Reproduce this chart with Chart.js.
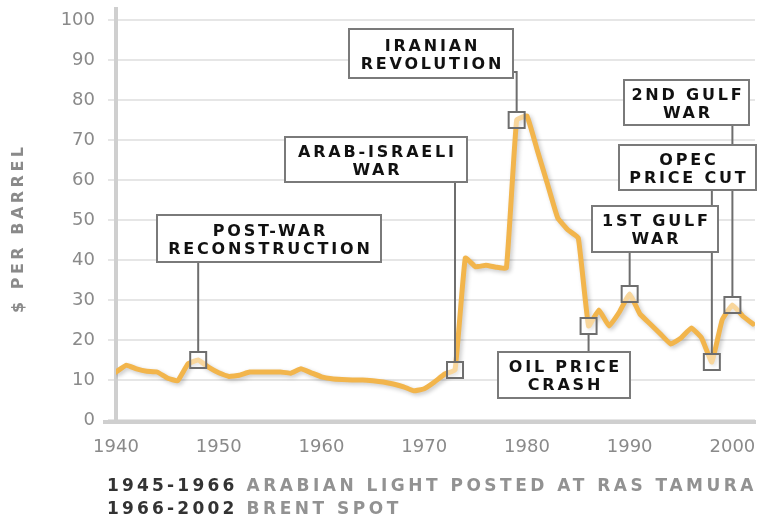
<!DOCTYPE html>
<html>
<head>
<meta charset="utf-8">
<script src="https://cdn.jsdelivr.net/npm/chart.js@4.4.1/dist/chart.umd.min.js"></script>
<style>
  html, body { margin: 0; padding: 0; background: #fff; }
  #wrap { width: 759px; height: 516px; position: relative; }
</style>
</head>
<body>
<div id="wrap"><canvas id="oilChart"></canvas></div>
<script>
// crude oil price, $ per barrel (2002 money)
const years = [
  1940, 1941, 1942, 1943, 1944, 1945, 1946, 1947, 1948, 1949,
  1950, 1951, 1952, 1953, 1954, 1955, 1956, 1957, 1958, 1959,
  1960, 1961, 1962, 1963, 1964, 1965, 1966, 1967, 1968, 1969,
  1970, 1971, 1972, 1973, 1974, 1975, 1976, 1977, 1978, 1979,
  1980, 1981, 1982, 1983, 1984, 1985, 1986, 1987, 1988, 1989,
  1990, 1991, 1992, 1993, 1994, 1995, 1996, 1997, 1998, 1999,
  2000, 2001, 2002
];
const prices = [
  12, 13.7, 12.8, 12.2, 12, 10.5, 9.8, 14, 15, 13.2,
  11.8, 10.9, 11.2, 12, 12, 12, 12, 11.7, 12.8, 11.8,
  10.8, 10.3, 10.1, 10, 10, 9.8, 9.5, 9, 8.3, 7.3,
  7.8, 9.5, 11.5, 12.5, 40.5, 38.3, 38.7, 38.2, 38, 75,
  76, 67.5, 59, 50.5, 47.5, 45.5, 23.5, 27.5, 23.5, 27,
  31.5, 26.5, 24, 21.5, 19, 20.5, 23, 20.5, 14.5, 25,
  28.75, 26, 24
];
const xTicks = [1940, 1950, 1960, 1970, 1980, 1990, 2000];
const yTicks = [0, 10, 20, 30, 40, 50, 60, 70, 80, 90, 100];

const eventYears = [1948, 1973, 1979, 1986, 1990, 1998, 2000];
const eventLabels = [
  ['POST-WAR', 'RECONSTRUCTION'],
  ['ARAB-ISRAELI', 'WAR'],
  ['IRANIAN', 'REVOLUTION'],
  ['OIL PRICE', 'CRASH'],
  ['1ST GULF', 'WAR'],
  ['OPEC', 'PRICE CUT'],
  ['2ND GULF', 'WAR']
];
const noteYears = ['1945-1966', '1966-2002'];
const noteSources = ['ARABIAN LIGHT POSTED AT RAS TAMURA', 'BRENT SPOT'];

// callout box placement (pixels), same order as eventLabels
const boxes = [
  { left: 157, top: 215, w: 224, h: 47 },
  { left: 285, top: 137, w: 182, h: 45 },
  { left: 349, top: 29, w: 164, h: 49, elbowY: 72 },
  { left: 498, top: 352, w: 132, h: 46 },
  { left: 592, top: 206, w: 126, h: 46 },
  { left: 619, top: 145, w: 137, h: 45 },
  { left: 624, top: 80, w: 125, h: 45 }
];

const LINE = '#f2b54c';
const AXIS = '#cfcfcf';
const GREY_TEXT = '#8a8a8a';

function spacedText(ctx, text, x, y, spacing, align) {
  ctx.letterSpacing = spacing + 'px';
  ctx.textAlign = align;
  ctx.fillText(text, align === 'center' ? x + spacing / 2 : x, y);
  ctx.letterSpacing = '0px';
}

const lineShadow = {
  id: 'lineShadow',
  beforeDatasetDraw(chart) {
    const ctx = chart.ctx;
    ctx.save();
    ctx.shadowColor = 'rgba(0,0,0,0.22)';
    ctx.shadowBlur = 4;
    ctx.shadowOffsetX = 2;
    ctx.shadowOffsetY = 2;
  },
  afterDatasetDraw(chart) {
    chart.ctx.restore();
  }
};

const decorations = {
  id: 'decorations',
  beforeDatasetsDraw(chart) {
    const { ctx, chartArea: a } = chart;
    ctx.save();
    ctx.strokeStyle = AXIS;
    ctx.lineWidth = 4;
    ctx.beginPath();
    ctx.moveTo(a.left, 7);
    ctx.lineTo(a.left, a.bottom + 4);
    ctx.moveTo(a.left - 13, a.bottom + 2);
    ctx.lineTo(a.right + 1, a.bottom + 2);
    ctx.stroke();
    ctx.restore();
  },
  afterDatasetsDraw(chart) {
    const { ctx, scales: { x, y } } = chart;
    const pts = eventYears.map(yr => ({
      x: x.getPixelForValue(yr),
      y: y.getPixelForValue(prices[years.indexOf(yr)])
    }));
    const m = 8;
    ctx.save();
    // leader lines
    ctx.strokeStyle = '#6e6e6e';
    ctx.lineWidth = 2;
    pts.forEach((p, i) => {
      const b = boxes[i];
      ctx.beginPath();
      if (b.elbowY !== undefined) {
        ctx.moveTo(p.x, p.y - m);
        ctx.lineTo(p.x, b.elbowY);
        ctx.lineTo(b.left + b.w, b.elbowY);
      } else if (b.top + b.h < p.y) {
        ctx.moveTo(p.x, p.y - m);
        ctx.lineTo(p.x, b.top + b.h);
      } else {
        ctx.moveTo(p.x, p.y + m);
        ctx.lineTo(p.x, b.top);
      }
      ctx.stroke();
    });
    // boxes
    ctx.font = 'bold 16px "DejaVu Sans"';
    ctx.textBaseline = 'alphabetic';
    boxes.forEach((b, i) => {
      ctx.fillStyle = '#fff';
      ctx.fillRect(b.left, b.top, b.w, b.h);
      ctx.strokeStyle = '#7a7a7a';
      ctx.lineWidth = 2;
      ctx.strokeRect(b.left, b.top, b.w, b.h);
      ctx.fillStyle = '#111';
      const cx = b.left + b.w / 2;
      const mid = b.top + b.h / 2;
      spacedText(ctx, eventLabels[i][0], cx, mid - 3, 2.8, 'center');
      spacedText(ctx, eventLabels[i][1], cx, mid + 15, 2.8, 'center');
    });
    // markers
    pts.forEach(p => {
      ctx.fillStyle = 'rgba(255,255,255,0.45)';
      ctx.fillRect(p.x - m, p.y - m, 2 * m, 2 * m);
      ctx.strokeStyle = '#6e6e6e';
      ctx.lineWidth = 2;
      ctx.strokeRect(p.x - m, p.y - m, 2 * m, 2 * m);
    });
    ctx.restore();
  },
  afterDraw(chart) {
    const ctx = chart.ctx;
    ctx.save();
    // y axis title
    ctx.translate(19, 230);
    ctx.rotate(-Math.PI / 2);
    ctx.font = 'bold 16px "DejaVu Sans"';
    ctx.fillStyle = GREY_TEXT;
    ctx.textBaseline = 'middle';
    spacedText(ctx, '$ PER BARREL', 0, 0, 3.5, 'center');
    ctx.restore();
    // source notes
    ctx.save();
    ctx.font = 'bold 17px "DejaVu Sans"';
    ctx.textBaseline = 'alphabetic';
    noteYears.forEach((yr, i) => {
      const base = 491 + i * 23;
      ctx.fillStyle = '#333';
      spacedText(ctx, yr, 107, base, 3.2, 'left');
      ctx.letterSpacing = '3.2px';
      const w = ctx.measureText(yr + ' ').width;
      ctx.letterSpacing = '0px';
      ctx.fillStyle = '#929292';
      spacedText(ctx, noteSources[i], 107 + w, base, 3.5, 'left');
    });
    ctx.restore();
  }
};

const tickFont = { family: 'DejaVu Sans', size: 18 };

new Chart(document.getElementById('oilChart'), {
  type: 'line',
  data: {
    datasets: [{
      data: years.map((yr, i) => ({ x: yr, y: prices[i] })),
      borderColor: LINE,
      borderWidth: 5,
      borderJoinStyle: 'round',
      borderCapStyle: 'round',
      tension: 0.1,
      pointRadius: 0,
      fill: false
    }]
  },
  options: {
    responsive: true,
    maintainAspectRatio: false,
    animation: false,
    layout: { padding: { top: 8, right: 4, left: 0, bottom: 0 } },
    plugins: { legend: { display: false }, tooltip: { enabled: false } },
    scales: {
      x: {
        type: 'linear',
        min: 1940,
        max: 2002.2,
        afterFit: s => { s.height = 96; s.paddingLeft = 0; s.paddingRight = 0; },
        afterBuildTicks: s => { s.ticks = xTicks.map(v => ({ value: v })); },
        grid: { display: false },
        border: { display: false },
        ticks: {
          color: GREY_TEXT, font: tickFont, padding: 9,
          maxRotation: 0, autoSkip: false, callback: v => String(v)
        }
      },
      y: {
        min: 0,
        max: 103,
        afterFit: s => { s.width = 116; s.paddingTop = 0; s.paddingBottom = 0; },
        afterBuildTicks: s => { s.ticks = yTicks.map(v => ({ value: v })); },
        grid: { color: '#e6e6e6', lineWidth: 2, tickLength: 8, drawTicks: true },
        border: { display: false },
        ticks: { color: GREY_TEXT, font: tickFont, padding: 13, callback: v => String(v) }
      }
    }
  },
  plugins: [lineShadow, decorations]
});
</script>
</body>
</html>
